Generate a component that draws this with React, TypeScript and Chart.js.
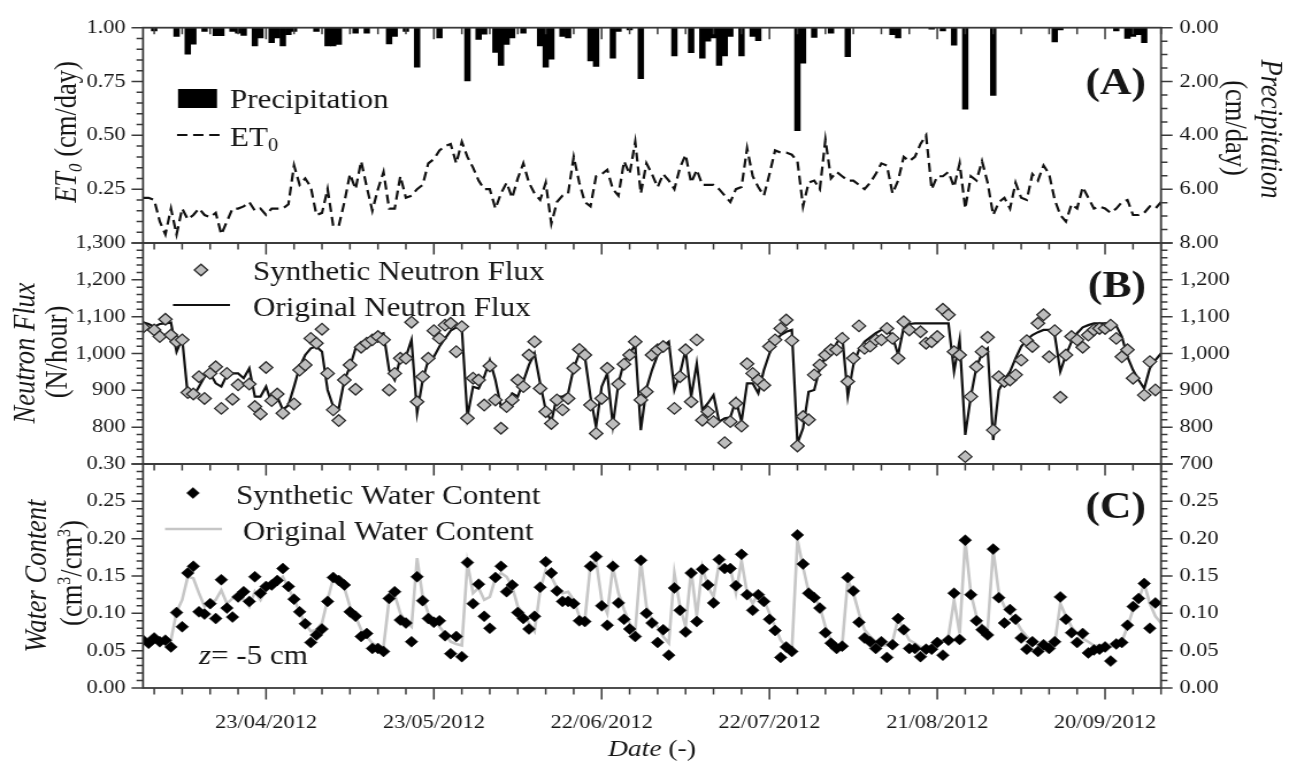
import React, { useEffect, useRef } from 'react';
import { Chart, registerables } from 'chart.js';

Chart.register(...registerables);

// ---------------- data (day index 0 = 01/04/2012) ----------------
const xTickDays = [22, 52, 82, 112, 142, 172];
const xTickLabels = ['23/04/2012', '23/05/2012', '22/06/2012', '22/07/2012', '21/08/2012', '20/09/2012'];

const et0TickValues = [0, 0.25, 0.5, 0.75, 1.0];
const precipTickValues = [0, 2, 4, 6, 8];
const neutronTickValues = [700, 800, 900, 1000, 1100, 1200, 1300];
const waterTickValues = [0, 0.05, 0.1, 0.15, 0.2, 0.25, 0.3];

const et0 = [
  0.21, 0.21, 0.20, 0.10, 0.04, 0.16, 0.04, 0.16, 0.11, 0.13,
  0.16, 0.13, 0.12, 0.14, 0.04, 0.10, 0.16, 0.16, 0.17, 0.19,
  0.15, 0.16, 0.13, 0.16, 0.16, 0.16, 0.18, 0.36, 0.27, 0.30,
  0.26, 0.13, 0.14, 0.25, 0.08, 0.08, 0.19, 0.32, 0.25, 0.38,
  0.26, 0.15, 0.25, 0.33, 0.16, 0.16, 0.31, 0.21, 0.22, 0.25,
  0.27, 0.37, 0.39, 0.43, 0.45, 0.46, 0.37, 0.47, 0.40, 0.35,
  0.29, 0.25, 0.25, 0.16, 0.23, 0.28, 0.21, 0.30, 0.37, 0.28,
  0.23, 0.20, 0.28, 0.09, 0.19, 0.22, 0.23, 0.40, 0.28, 0.19,
  0.17, 0.31, 0.32, 0.34, 0.25, 0.22, 0.38, 0.32, 0.47, 0.23,
  0.37, 0.32, 0.26, 0.32, 0.29, 0.25, 0.35, 0.41, 0.28, 0.34,
  0.27, 0.27, 0.27, 0.25, 0.22, 0.19, 0.25, 0.26, 0.44, 0.31,
  0.26, 0.22, 0.32, 0.43, 0.42, 0.42, 0.41, 0.38, 0.17, 0.28,
  0.29, 0.25, 0.48, 0.30, 0.33, 0.31, 0.29, 0.29, 0.27, 0.25,
  0.28, 0.32, 0.37, 0.36, 0.23, 0.29, 0.40, 0.38, 0.40, 0.46,
  0.50, 0.25, 0.31, 0.31, 0.33, 0.26, 0.37, 0.16, 0.31, 0.29,
  0.38, 0.28, 0.13, 0.19, 0.21, 0.16, 0.28, 0.21, 0.20, 0.32,
  0.29, 0.36, 0.32, 0.20, 0.13, 0.10, 0.18, 0.16, 0.26, 0.21,
  0.16, 0.17, 0.16, 0.14, 0.16, 0.19, 0.20, 0.13, 0.13, 0.14,
  0.17, 0.16, 0.19,
];

const precipDays = [
  2, 6, 8, 9, 11, 13, 14, 16, 17, 18,
  20, 21, 23, 24, 25, 26, 27, 31, 33, 34,
  35, 38, 40, 44, 45, 47, 49, 53, 58, 60,
  61, 63, 64, 65, 66, 68, 71, 72, 73, 75,
  76, 80, 81, 84, 85, 87, 89, 95, 98, 100,
  101, 102, 103, 104, 105, 107, 109, 110, 117, 118,
  120, 123, 126, 134, 135, 141, 143, 145, 147, 152,
  163, 164, 174, 176, 177, 178, 179,
];
const precipAmounts = [
  0.12, 0.32, 0.98, 0.61, 0.14, 0.30, 0.30, 0.14, 0.20, 0.29,
  0.68, 0.38, 0.56, 0.38, 0.68, 0.26, 0.14, 0.14, 0.68, 0.68,
  0.62, 0.20, 0.20, 0.60, 0.32, 0.14, 1.47, 0.38, 1.98, 0.44,
  0.24, 0.92, 1.40, 0.62, 0.38, 0.20, 0.68, 1.47, 1.17, 0.32,
  0.38, 1.23, 1.44, 1.13, 0.14, 0.08, 1.89, 1.05, 0.93, 1.13,
  0.50, 0.38, 1.40, 1.05, 0.32, 1.05, 0.32, 0.48, 3.83, 1.32,
  0.36, 0.20, 1.08, 0.26, 0.38, 0.05, 0.12, 0.65, 3.03, 2.52,
  0.53, 0.08, 0.12, 0.40, 0.32, 0.26, 0.56,
];

const neutronOriginal = [
  1085, 1080, 1073, 1080, 1082, 1084, 1005, 1041, 887, 883,
  910, 937, 946, 919, 910, 942, 946, 946, 933, 960,
  883, 883, 910, 865, 883, 847, 860, 910, 964, 996,
  1014, 1019, 1005, 901, 856, 851, 928, 964, 1014, 1028,
  1037, 1041, 1050, 1055, 955, 928, 987, 991, 1037, 838,
  928, 982, 991, 1019, 1041, 1062, 1071, 1068, 829, 910,
  905, 937, 982, 928, 856, 865, 892, 883, 924, 969,
  1000, 919, 847, 815, 883, 883, 892, 960, 1000, 991,
  883, 801, 910, 946, 806, 919, 978, 1000, 1023, 792,
  905, 955, 996, 1019, 1032, 901, 946, 1010, 883, 973,
  847, 865, 887, 815, 824, 827, 874, 815, 919, 919,
  892, 955, 1000, 1032, 1050, 1059, 1064, 756, 797, 896,
  901, 960, 991, 1000, 1028, 1050, 883, 969, 1010, 1032,
  1044, 1055, 1064, 1066, 1046, 996, 1071, 1080, 1082, 1082,
  1082, 1082, 1082, 1082, 1082, 951, 1037, 779, 883, 964,
  1000, 1014, 765, 901, 928, 951, 987, 1019, 1037, 1050,
  1058, 1064, 1064, 1050, 951, 996, 1032, 1055, 1071, 1077,
  1082, 1082, 1082, 1080, 1075, 1046, 991, 955, 928, 905,
  960, 982, 1000,
];

const neutronSynthetic = [
  1071, null, 1064, 1046, 1093, 1050, 1032, 1037, 894, 890,
  937, 878, 946, 964, 851, 946, 876, 915, null, 917,
  856, 836, 962, 872, 890, 838, null, 863, 955, 969,
  1041, 1028, 1066, 946, 847, 818, 928, 969, 903, 1017,
  1028, 1037, 1046, 1037, 901, 946, 987, 987, 1085, 869,
  937, 987, 1062, 1041, 1077, 1082, 1005, 1073, 824, 933,
  928, 860, 966, 874, 797, 856, 874, 928, 910, 996,
  1032, 905, 842, 810, 874, 847, 878, 960, 1011, 996,
  860, 783, 878, 960, 809, 917, 971, 996, 1032, 874,
  896, 996, 1010, 1019, null, 851, 937, 1010, 869, 1037,
  819, 842, 815, null, 758, 815, 865, 803, 972, 946,
  928, 914, 1019, 1037, 1068, 1091, 1035, 749, 829, 820,
  942, 969, 996, 1010, 1010, 1041, 924, 987, 1075, 1014,
  1020, 1037, 1037, 1068, 1041, 987, 1086, 1064, null, 1059,
  1028, 1032, 1046, 1120, 1105, 1005, 996, 720, 883, 964,
  1005, 1044, 792, 937, 924, 928, 942, 982, 1035, 1019,
  1082, 1105, 991, 1062, 881, 996, 1046, 1037, 1017, 1050,
  1064, 1068, 1068, 1077, 1041, 991, 1010, 933, null, 887,
  978, 901, null,
];

const waterOriginal = [
  0.062, 0.062, 0.062, 0.062, 0.061, 0.064, 0.102, 0.118, 0.149, 0.147,
  0.127, 0.109, 0.113, 0.118, 0.131, 0.113, 0.120, 0.125, 0.118, 0.109,
  0.129, 0.118, 0.134, 0.138, 0.142, 0.149, 0.134, 0.119, 0.102, 0.086,
  0.076, 0.078, 0.087, 0.118, 0.147, 0.142, 0.134, 0.109, 0.096, 0.078,
  0.069, 0.060, 0.056, 0.055, 0.118, 0.125, 0.100, 0.089, 0.082, 0.174,
  0.122, 0.100, 0.091, 0.082, 0.073, 0.062, 0.059, 0.057, 0.167, 0.127,
  0.134, 0.118, 0.122, 0.147, 0.154, 0.149, 0.136, 0.109, 0.100, 0.087,
  0.076, 0.131, 0.158, 0.149, 0.134, 0.127, 0.129, 0.118, 0.096, 0.092,
  0.165, 0.171, 0.118, 0.100, 0.162, 0.127, 0.105, 0.087, 0.076, 0.171,
  0.109, 0.091, 0.082, 0.069, 0.060, 0.154, 0.109, 0.082, 0.158, 0.096,
  0.162, 0.136, 0.122, 0.167, 0.162, 0.160, 0.127, 0.171, 0.127, 0.113,
  0.127, 0.118, 0.100, 0.082, 0.064, 0.055, 0.049, 0.198, 0.162, 0.129,
  0.122, 0.109, 0.082, 0.064, 0.057, 0.057, 0.145, 0.127, 0.100, 0.078,
  0.069, 0.062, 0.057, 0.057, 0.062, 0.093, 0.078, 0.064, 0.060, 0.055,
  0.055, 0.057, 0.060, 0.064, 0.069, 0.118, 0.073, 0.198, 0.127, 0.096,
  0.084, 0.078, 0.185, 0.127, 0.109, 0.100, 0.091, 0.078, 0.069, 0.062,
  0.057, 0.057, 0.057, 0.060, 0.113, 0.096, 0.082, 0.073, 0.066, 0.062,
  0.057, 0.057, 0.057, 0.055, 0.057, 0.062, 0.082, 0.105, 0.118, 0.140,
  0.113, 0.096, 0.087,
];

const waterSynthetic = [
  0.064, 0.060, 0.067, 0.062, 0.064, 0.055, 0.101, 0.082, 0.154, 0.163,
  0.102, 0.099, 0.113, 0.093, 0.145, 0.107, 0.095, 0.122, 0.129, 0.116,
  0.149, 0.127, 0.136, 0.138, 0.144, 0.160, 0.136, 0.119, 0.102, 0.086,
  0.061, 0.071, 0.079, 0.116, 0.148, 0.144, 0.138, 0.102, 0.096, 0.069,
  0.073, 0.053, 0.053, 0.049, 0.120, 0.129, 0.091, 0.087, 0.062, 0.149,
  0.117, 0.093, 0.088, 0.090, 0.070, 0.046, 0.069, 0.042, 0.168, 0.113,
  0.139, 0.096, 0.080, 0.148, 0.163, 0.129, 0.138, 0.101, 0.093, 0.079,
  0.096, 0.135, 0.169, 0.154, 0.130, 0.116, 0.116, 0.113, 0.090, 0.089,
  0.163, 0.176, 0.110, 0.084, 0.163, 0.114, 0.092, 0.079, 0.069, 0.171,
  0.100, 0.087, 0.061, 0.078, 0.044, 0.134, 0.104, 0.075, 0.154, 0.089,
  0.159, 0.138, 0.114, 0.172, 0.160, 0.160, 0.137, 0.179, 0.125, 0.104,
  0.125, 0.116, 0.092, 0.077, 0.041, 0.055, 0.049, 0.205, 0.166, 0.127,
  0.121, 0.107, 0.074, 0.060, 0.053, 0.056, 0.148, 0.130, 0.088, 0.067,
  0.062, 0.053, 0.062, 0.041, 0.058, 0.093, 0.078, 0.053, 0.053, 0.042,
  0.052, 0.052, 0.061, 0.044, 0.064, 0.127, 0.065, 0.198, 0.125, 0.090,
  0.078, 0.071, 0.186, 0.121, 0.087, 0.105, 0.092, 0.067, 0.052, 0.062,
  0.049, 0.058, 0.053, 0.062, 0.122, 0.092, 0.074, 0.061, 0.073, 0.047,
  0.051, 0.052, 0.055, 0.036, 0.059, 0.061, 0.084, 0.109, 0.120, 0.140,
  0.080, 0.114, null,
];

// ---------------- layout / style ----------------
const W = 1121; // internal canvas width (displayed stretched to 1289)
const H = 767;
const SX = 1289 / W;
const X = (px: number) => px / SX; // reference px -> internal px
const PLOT_L = X(143);
const PLOT_R = X(1161);
const LEFT_W = PLOT_L;
const RIGHT_W = W - PLOT_R;
const X_MIN = 0;
const X_MAX = 182;

const FAMILY = '"Liberation Serif", "Times New Roman", Times, serif';
const TEXT = '#161616';
const AXIS = '#3a3a3a';
const TICK_FONT = 19.5;
const LEG = 27;
const TITLE = 26.5;
const ET_DASH = [9, 5];

const f = (size: number, style = '', weight = '') => `${style} ${weight} ${size}px ${FAMILY}`.trim();

const range = (a: number, b: number, step: number) => {
  const out: number[] = [];
  const n = Math.round((b - a) / step);
  for (let i = 0; i <= n; i++) out.push(+(a + i * step).toFixed(6));
  return out;
};

const xMinor = range(2, 182, 5);
const xMajor = xTickDays;

type Seg = { t: string; font: string; dy?: number };
function drawRich(ctx: CanvasRenderingContext2D, segs: Seg[], x: number, y: number, rot: number, align: 'left' | 'center' | 'right') {
  ctx.save();
  ctx.translate(x, y);
  if (rot) ctx.rotate(rot);
  ctx.textBaseline = 'alphabetic';
  ctx.textAlign = 'left';
  ctx.fillStyle = TEXT;
  let total = 0;
  for (const s of segs) { ctx.font = s.font; total += ctx.measureText(s.t).width; }
  let cx = align === 'center' ? -total / 2 : align === 'right' ? -total : 0;
  for (const s of segs) {
    ctx.font = s.font;
    ctx.fillText(s.t, cx, s.dy || 0);
    cx += ctx.measureText(s.t).width;
  }
  ctx.restore();
}

function diamond(ctx: CanvasRenderingContext2D, x: number, y: number, r: number, fill: string, stroke: string, lw: number) {
  ctx.beginPath();
  ctx.moveTo(x - r, y);
  ctx.lineTo(x, y - r);
  ctx.lineTo(x + r, y);
  ctx.lineTo(x, y + r);
  ctx.closePath();
  ctx.fillStyle = fill;
  ctx.fill();
  if (lw > 0) { ctx.strokeStyle = stroke; ctx.lineWidth = lw; ctx.stroke(); }
}

const V_MIN = X(6.5), V_MAJ = X(11.5); // horizontal tick lengths (y axes)
const H_MIN = 6.5, H_MAJ = 11.5; // vertical tick lengths (x axis)

type Deco = {
  id: string;
  leftMinor: number[]; leftMajor: number[];
  rightMinor: number[]; rightMajor: number[];
  bottomTicks: boolean;
  draw: (ctx: CanvasRenderingContext2D, a: any) => void;
};

function decoPlugin(d: Deco) {
  return {
    id: 'deco_' + d.id,
    afterDraw(chart: any) {
      const { ctx, chartArea: a, scales } = chart;
      const xs = scales.x, yl = scales.yL, yr = scales.yR;
      ctx.save();
      ctx.strokeStyle = AXIS;
      ctx.lineWidth = 1.5;
      ctx.beginPath();
      for (const v of d.leftMinor) { const p = yl.getPixelForValue(v); ctx.moveTo(a.left - V_MIN, p); ctx.lineTo(a.left, p); }
      for (const v of d.leftMajor) { const p = yl.getPixelForValue(v); ctx.moveTo(a.left - V_MAJ, p); ctx.lineTo(a.left, p); }
      for (const v of d.rightMinor) { const p = yr.getPixelForValue(v); ctx.moveTo(a.right, p); ctx.lineTo(a.right + V_MIN, p); }
      for (const v of d.rightMajor) { const p = yr.getPixelForValue(v); ctx.moveTo(a.right, p); ctx.lineTo(a.right + V_MAJ, p); }
      for (const v of xMinor) { const p = xs.getPixelForValue(v); ctx.moveTo(p, a.top); ctx.lineTo(p, a.top + H_MIN); }
      for (const v of xMajor) { const p = xs.getPixelForValue(v); ctx.moveTo(p, a.top); ctx.lineTo(p, a.top + H_MAJ); }
      if (d.bottomTicks) {
        for (const v of xMinor) { const p = xs.getPixelForValue(v); ctx.moveTo(p, a.bottom); ctx.lineTo(p, a.bottom + H_MIN); }
        for (const v of xMajor) { const p = xs.getPixelForValue(v); ctx.moveTo(p, a.bottom); ctx.lineTo(p, a.bottom + H_MAJ); }
      }
      ctx.stroke();
      ctx.lineWidth = 1.8;
      ctx.strokeRect(a.left, a.top, a.right - a.left, a.bottom - a.top);
      d.draw(ctx, a);
      ctx.restore();
    },
  };
}

function yScale(o: { position: 'left' | 'right'; min: number; max: number; reverse?: boolean; values: number[]; fmt: (v: number) => string; hide?: (v: number) => boolean }) {
  return {
    type: 'linear',
    position: o.position,
    min: o.min,
    max: o.max,
    reverse: !!o.reverse,
    grid: { display: false, drawTicks: false },
    border: { display: false },
    afterBuildTicks: (s: any) => { s.ticks = o.values.map((v) => ({ value: v })); },
    afterFit: (s: any) => { s.width = o.position === 'left' ? LEFT_W : RIGHT_W; },
    ticks: {
      autoSkip: false,
      color: TEXT,
      font: { family: FAMILY, size: TICK_FONT },
      padding: o.position === 'left' ? 15 : 16,
      callback: (v: any) => (o.hide && o.hide(+v) ? '' : o.fmt(+v)),
    },
  };
}

const xHidden = { type: 'linear', min: X_MIN, max: X_MAX, offset: false, display: false };

const fmt2 = (v: number) => v.toFixed(2);
const fmtComma = (v: number) => v.toLocaleString('en-US');
const near = (a: number, b: number) => Math.abs(a - b) < 1e-6;

const baseOptions = (padTop: number, padBottom: number) => ({
  responsive: false,
  animation: false,
  devicePixelRatio: 1,
  events: [],
  layout: { padding: { top: padTop, bottom: padBottom, left: 0, right: 0 } },
  plugins: { legend: { display: false }, tooltip: { enabled: false }, title: { display: false } },
});

function configA(): any {
  return {
    type: 'line',
    data: {
      datasets: [
        {
          type: 'line', label: 'ET0', yAxisID: 'yL', order: 0,
          data: et0.map((v, i) => ({ x: i, y: v })),
          borderColor: '#111', borderWidth: 2.2, borderDash: ET_DASH, pointRadius: 0, tension: 0, fill: false,
        },
        {
          type: 'bar', label: 'Precipitation', yAxisID: 'yR', order: 1,
          data: precipDays.map((d, i) => ({ x: d, y: precipAmounts[i] })),
          backgroundColor: '#000', borderWidth: 0, barPercentage: 1, categoryPercentage: 1,
        },
      ],
    },
    options: {
      ...baseOptions(21, H - 243),
      scales: {
        x: xHidden,
        yL: yScale({ position: 'left', min: 0, max: 1, values: et0TickValues, fmt: fmt2, hide: (v) => near(v, 0) }),
        yR: yScale({ position: 'right', min: 0, max: 8, reverse: true, values: precipTickValues, fmt: fmt2 }),
      },
    },
    plugins: [decoPlugin({
      id: 'A',
      leftMinor: range(0, 1, 0.05), leftMajor: et0TickValues,
      rightMinor: range(0, 8, 0.5), rightMajor: precipTickValues,
      bottomTicks: false,
      draw: (ctx) => {
        ctx.fillStyle = '#000';
        ctx.fillRect(X(178), 89, X(217) - X(178), 19);
        drawRich(ctx, [{ t: 'Precipitation', font: f(LEG) }], X(230), 108, 0, 'left');
        ctx.save();
        ctx.strokeStyle = '#111'; ctx.lineWidth = 2.2; ctx.setLineDash(ET_DASH);
        ctx.beginPath(); ctx.moveTo(X(177), 135); ctx.lineTo(X(220), 135); ctx.stroke();
        ctx.restore();
        drawRich(ctx, [{ t: 'ET', font: f(LEG) }, { t: '0', font: f(18), dy: 5 }], X(230), 146, 0, 'left');
        drawRich(ctx, [{ t: '(A)', font: f(38, '', 'bold') }], X(1146), 94, 0, 'right');
        drawRich(ctx, [
          { t: 'ET', font: f(TITLE, 'italic') },
          { t: '0', font: f(17, 'italic'), dy: 5 },
          { t: ' (cm/day)', font: f(TITLE) },
        ], X(67) + 8, 132, -Math.PI / 2, 'center');
        drawRich(ctx, [{ t: 'Precipitation', font: f(TITLE, 'italic') }], X(1271) - 8, 129, Math.PI / 2, 'center');
        drawRich(ctx, [{ t: '(cm/day)', font: f(TITLE) }], X(1235) - 8, 128, Math.PI / 2, 'center');
      },
    })],
  };
}

function configB(): any {
  return {
    type: 'line',
    data: {
      datasets: [
        {
          label: 'Synthetic Neutron Flux', yAxisID: 'yL', order: 0,
          data: neutronSynthetic.map((v, i) => ({ x: i, y: v })),
          showLine: false, pointStyle: 'rectRot', pointRadius: 5.8,
          pointBackgroundColor: '#bdbdbd', pointBorderColor: '#2c2c2c', pointBorderWidth: 1.3,
        },
        {
          label: 'Original Neutron Flux', yAxisID: 'yL', order: 1,
          data: neutronOriginal.map((v, i) => ({ x: i, y: v })),
          borderColor: '#111', borderWidth: 2.2, pointRadius: 0, tension: 0, fill: false,
        },
      ],
    },
    options: {
      ...baseOptions(243, H - 464),
      scales: {
        x: xHidden,
        yL: yScale({ position: 'left', min: 700, max: 1300, values: neutronTickValues, fmt: fmtComma, hide: (v) => near(v, 700) }),
        yR: yScale({ position: 'right', min: 700, max: 1300, values: neutronTickValues, fmt: fmtComma, hide: (v) => near(v, 1300) }),
      },
    },
    plugins: [decoPlugin({
      id: 'B',
      leftMinor: range(700, 1300, 20), leftMajor: neutronTickValues,
      rightMinor: range(700, 1300, 20), rightMajor: neutronTickValues,
      bottomTicks: false,
      draw: (ctx) => {
        diamond(ctx, X(201), 270, 5.8, '#bdbdbd', '#2c2c2c', 1.3);
        drawRich(ctx, [{ t: 'Synthetic Neutron Flux', font: f(LEG) }], X(253), 280, 0, 'left');
        ctx.save();
        ctx.strokeStyle = '#111'; ctx.lineWidth = 2.2;
        ctx.beginPath(); ctx.moveTo(X(173), 305); ctx.lineTo(X(230), 305); ctx.stroke();
        ctx.restore();
        drawRich(ctx, [{ t: 'Original Neutron Flux', font: f(LEG) }], X(253), 316, 0, 'left');
        drawRich(ctx, [{ t: '(B)', font: f(38, '', 'bold') }], X(1146), 297, 0, 'right');
        drawRich(ctx, [{ t: 'Neutron Flux', font: f(TITLE, 'italic') }], X(25) + 8, 353, -Math.PI / 2, 'center');
        drawRich(ctx, [{ t: '(N/hour)', font: f(TITLE) }], X(58) + 8, 352, -Math.PI / 2, 'center');
      },
    })],
  };
}

function configC(): any {
  return {
    type: 'line',
    data: {
      datasets: [
        {
          label: 'Synthetic Water Content', yAxisID: 'yL', order: 0,
          data: waterSynthetic.map((v, i) => ({ x: i, y: v })),
          showLine: false, pointStyle: 'rectRot', pointRadius: 5.5,
          pointBackgroundColor: '#000', pointBorderColor: '#000', pointBorderWidth: 0.5,
        },
        {
          label: 'Original Water Content', yAxisID: 'yL', order: 1,
          data: waterOriginal.map((v, i) => ({ x: i, y: v })),
          borderColor: '#c6c6c6', borderWidth: 2.6, pointRadius: 0, tension: 0, fill: false,
        },
      ],
    },
    options: {
      ...baseOptions(464, 0),
      scales: {
        x: {
          type: 'linear', min: X_MIN, max: X_MAX, offset: false, position: 'bottom',
          grid: { display: false, drawTicks: false },
          border: { display: false },
          afterBuildTicks: (s: any) => { s.ticks = xTickDays.map((v) => ({ value: v })); },
          afterFit: (s: any) => { s.height = H - 688; },
          ticks: {
            autoSkip: false, maxRotation: 0, minRotation: 0,
            color: TEXT, font: { family: FAMILY, size: TICK_FONT }, padding: 23,
            callback: (v: any) => xTickLabels[xTickDays.indexOf(+v)] ?? '',
          },
        },
        yL: yScale({ position: 'left', min: 0, max: 0.3, values: waterTickValues, fmt: fmt2 }),
        yR: yScale({ position: 'right', min: 0, max: 0.3, values: waterTickValues, fmt: fmt2, hide: (v) => near(v, 0.3) }),
      },
    },
    plugins: [decoPlugin({
      id: 'C',
      leftMinor: range(0, 0.3, 0.01), leftMajor: waterTickValues,
      rightMinor: range(0, 0.3, 0.01), rightMajor: waterTickValues,
      bottomTicks: true,
      draw: (ctx) => {
        diamond(ctx, X(193), 493, 5.5, '#000', '#000', 0.5);
        drawRich(ctx, [{ t: 'Synthetic Water Content', font: f(LEG) }], X(236), 504, 0, 'left');
        ctx.save();
        ctx.strokeStyle = '#c6c6c6'; ctx.lineWidth = 2.6;
        ctx.beginPath(); ctx.moveTo(X(165), 529); ctx.lineTo(X(222), 529); ctx.stroke();
        ctx.restore();
        drawRich(ctx, [{ t: 'Original Water Content', font: f(LEG) }], X(243), 540, 0, 'left');
        drawRich(ctx, [{ t: 'z', font: f(LEG, 'italic') }, { t: '= -5 cm', font: f(LEG) }], X(199), 664, 0, 'left');
        drawRich(ctx, [{ t: '(C)', font: f(38, '', 'bold') }], X(1146), 518, 0, 'right');
        drawRich(ctx, [{ t: 'Water Content', font: f(TITLE, 'italic') }], X(37) + 8, 576, -Math.PI / 2, 'center');
        drawRich(ctx, [
          { t: '(cm', font: f(TITLE) },
          { t: '3', font: f(16), dy: -10 },
          { t: '/cm', font: f(TITLE) },
          { t: '3', font: f(16), dy: -10 },
          { t: ')', font: f(TITLE) },
        ], X(72) + 8, 573, -Math.PI / 2, 'center');
        drawRich(ctx, [{ t: 'Date', font: f(24, 'italic') }, { t: ' (-)', font: f(24) }], X(652), 756, 0, 'center');
      },
    })],
  };
}

export default function App() {
  const refA = useRef<HTMLCanvasElement>(null);
  const refB = useRef<HTMLCanvasElement>(null);
  const refC = useRef<HTMLCanvasElement>(null);

  useEffect(() => {
    const charts = [
      new Chart(refA.current as HTMLCanvasElement, configA()),
      new Chart(refB.current as HTMLCanvasElement, configB()),
      new Chart(refC.current as HTMLCanvasElement, configC()),
    ];
    return () => charts.forEach((c) => c.destroy());
  }, []);

  const cs: React.CSSProperties = { position: 'absolute', left: 0, top: 0, width: '1289px', height: '767px' };
  return (
    <div style={{ position: 'fixed', left: 0, top: 0, width: 1289, height: 767, background: '#fff', overflow: 'hidden' }}>
      <canvas ref={refA} width={W} height={H} style={cs} />
      <canvas ref={refB} width={W} height={H} style={cs} />
      <canvas ref={refC} width={W} height={H} style={cs} />
    </div>
  );
}
